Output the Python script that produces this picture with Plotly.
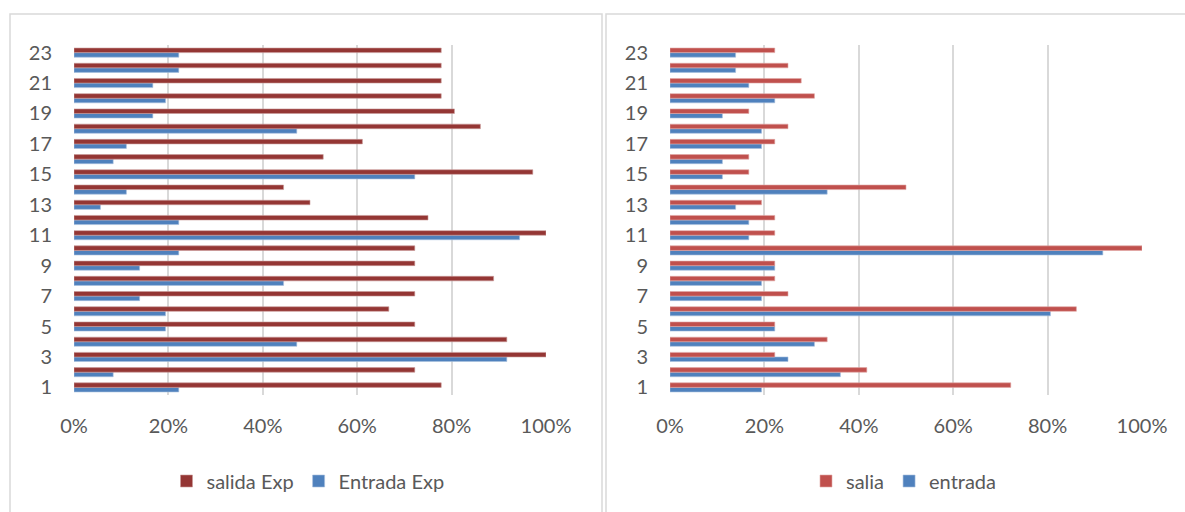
import plotly.graph_objects as go

categories = list(range(1, 24))

# Left chart
salida_exp = [77.8, 72.2, 100.0, 91.7, 72.2, 66.7, 72.2, 88.9, 72.2, 72.2, 100.0, 75.0,
              50.0, 44.4, 97.2, 52.8, 61.1, 86.1, 80.6, 77.8, 77.8, 77.8, 77.8]
entrada_exp = [22.2, 8.3, 91.7, 47.2, 19.4, 19.4, 13.9, 44.4, 13.9, 22.2, 94.4, 22.2,
               5.6, 11.1, 72.2, 8.3, 11.1, 47.2, 16.7, 19.4, 16.7, 22.2, 22.2]

# Right chart
salia = [72.2, 41.7, 22.2, 33.3, 22.2, 86.1, 25.0, 22.2, 22.2, 100.0, 22.2, 22.2,
         19.4, 50.0, 16.7, 16.7, 22.2, 25.0, 16.7, 30.6, 27.8, 25.0, 22.2]
entrada = [19.4, 36.1, 25.0, 30.6, 22.2, 80.6, 19.4, 19.4, 22.2, 91.7, 16.7, 16.7,
           13.9, 33.3, 11.1, 11.1, 19.4, 19.4, 11.1, 22.2, 16.7, 13.9, 13.9]

x_ticks = [0, 20, 40, 60, 80, 100]
x_ticktext = ["0%", "20%", "40%", "60%", "80%", "100%"]
y_ticks = list(range(1, 24, 2))

W, H = 1185, 512
FONT = "Lato"
TXT = "#595959"
GRID = "#d9d9d9"

def px_x(p):
    return p / W

def px_y(p):
    return 1 - p / H

fig = go.Figure()

fig.add_trace(go.Bar(y=categories, x=entrada_exp, orientation="h", name="Entrada Exp",
                     marker=dict(color="#4f81bd", line=dict(color="#a7c0de", width=0.6)),
                     xaxis="x", yaxis="y", legend="legend"))
fig.add_trace(go.Bar(y=categories, x=salida_exp, orientation="h", name="salida Exp",
                     marker=dict(color="#943634", line=dict(color="#c99a99", width=0.6)),
                     xaxis="x", yaxis="y", legend="legend"))
fig.add_trace(go.Bar(y=categories, x=entrada, orientation="h", name="entrada",
                     marker=dict(color="#4f81bd", line=dict(color="#a7c0de", width=0.6)),
                     xaxis="x2", yaxis="y2", legend="legend2"))
fig.add_trace(go.Bar(y=categories, x=salia, orientation="h", name="salia",
                     marker=dict(color="#c0504d", line=dict(color="#e0a8a6", width=0.6)),
                     xaxis="x2", yaxis="y2", legend="legend2"))

xcommon = dict(range=[0, 100], tickvals=x_ticks, ticktext=x_ticktext, showgrid=True,
               gridcolor=GRID, gridwidth=1.5, zeroline=False, showline=False,
               tickfont=dict(family=FONT, size=20, color=TXT), ticks="",
               ticklabelstandoff=17, automargin=False, fixedrange=True)
ycommon = dict(range=[0.5, 23.5], tickvals=y_ticks, showgrid=False, zeroline=False,
               showline=False, tickfont=dict(family=FONT, size=20, color=TXT), ticks="",
               ticklabelstandoff=21, automargin=False, fixedrange=True)

ydom = [px_y(395), px_y(45)]

fig.update_layout(
    width=W, height=H,
    margin=dict(l=0, r=0, t=0, b=0),
    paper_bgcolor="white", plot_bgcolor="white",
    barmode="group", bargap=0.40, bargroupgap=0.0,
    xaxis=dict(domain=[px_x(74), px_x(546)], anchor="y", **xcommon),
    yaxis=dict(domain=ydom, anchor="x", **ycommon),
    xaxis2=dict(domain=[px_x(670), px_x(1142)], anchor="y2", **xcommon),
    yaxis2=dict(domain=ydom, anchor="x2", **ycommon),
    legend=dict(orientation="h", x=px_x(308), y=px_y(481), xanchor="center", yanchor="middle",
                traceorder="reversed", font=dict(family=FONT, size=20, color=TXT),
                bgcolor="rgba(0,0,0,0)", itemwidth=30, itemclick=False),
    legend2=dict(orientation="h", x=px_x(904), y=px_y(481), xanchor="center", yanchor="middle",
                 traceorder="reversed", font=dict(family=FONT, size=20, color=TXT),
                 bgcolor="rgba(0,0,0,0)", itemwidth=30, itemclick=False),
    shapes=[
        dict(type="rect", xref="paper", yref="paper", x0=px_x(10), x1=px_x(602),
             y0=px_y(530), y1=px_y(14), line=dict(color=GRID, width=1.5), layer="below"),
        dict(type="rect", xref="paper", yref="paper", x0=px_x(606), x1=px_x(1200),
             y0=px_y(530), y1=px_y(14), line=dict(color=GRID, width=1.5), layer="below"),
    ],
    showlegend=True,
)

fig.write_html(
    "out.html",
    config={"displayModeBar": False},
    post_script="document.body.style.margin='0';document.body.style.overflow='hidden';",
)
